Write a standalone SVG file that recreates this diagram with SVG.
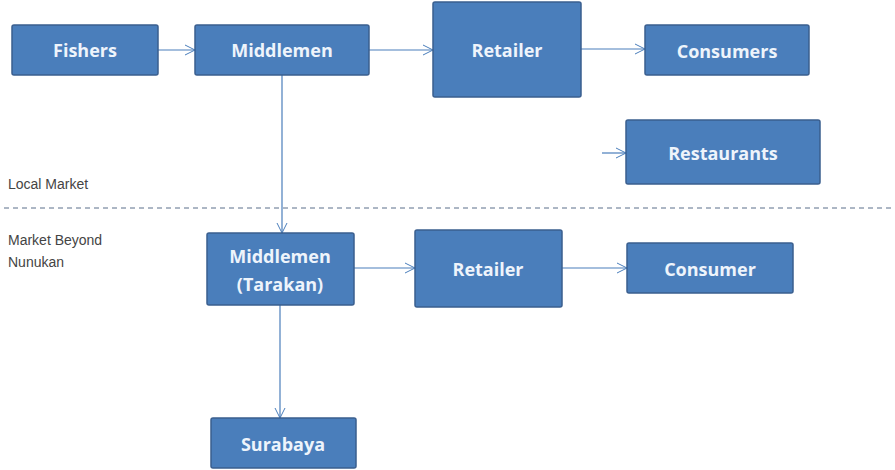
<svg xmlns="http://www.w3.org/2000/svg" width="895" height="470" viewBox="0 0 895 470">
<defs>
<marker id="arr" viewBox="0 0 12 12" refX="11" refY="6" markerWidth="12" markerHeight="12" markerUnits="userSpaceOnUse" orient="auto">
<path d="M1,1 L11,6 L1,11" fill="none" stroke="#4a7ebb" stroke-width="1"/>
</marker>
<style>
.box{fill:#4a7ebb;stroke:#3a5f8f;stroke-width:1.5}
.lbl{font-family:"Open Sans","Liberation Sans",sans-serif;font-weight:bold;font-size:18px;fill:#eef4fb;text-anchor:middle}
.conn{fill:none;stroke:#4a7ebb;stroke-width:1.2}
.note{font-family:"Liberation Sans",sans-serif;font-size:14px;fill:#444}
</style>
</defs>
<rect width="895" height="470" fill="#fff"/>
<g id="connectors">
<path class="conn" d="M158,50 H195" marker-end="url(#arr)"/>
<path class="conn" d="M369,50 H433" marker-end="url(#arr)"/>
<path class="conn" d="M581,49 H645" marker-end="url(#arr)"/>
<path class="conn" d="M602,153 H626" marker-end="url(#arr)"/>
<path class="conn" d="M282,75 V233" marker-end="url(#arr)"/>
<path class="conn" d="M354,268 H415" marker-end="url(#arr)"/>
<path class="conn" d="M562,268 H627" marker-end="url(#arr)"/>
<path class="conn" d="M280,305 V418" marker-end="url(#arr)"/>
</g>
<line x1="4" y1="208" x2="895" y2="208" stroke="#5a6f8a" stroke-width="1" stroke-dasharray="5,4"/>
<text class="note" x="8" y="189">Local Market</text>
<text class="note" x="8" y="245">Market Beyond</text>
<text class="note" x="8" y="267">Nunukan</text>
<g id="fishers"><rect class="box" x="12" y="25" width="146" height="50" rx="2"/><text class="lbl" x="85" y="57">Fishers</text></g>
<g id="middlemen"><rect class="box" x="195" y="25" width="174" height="50" rx="2"/><text class="lbl" x="282" y="57">Middlemen</text></g>
<g id="retailer"><rect class="box" x="433" y="2" width="148" height="95" rx="2"/><text class="lbl" x="507" y="57">Retailer</text></g>
<g id="consumers"><rect class="box" x="645" y="25" width="164" height="50" rx="2"/><text class="lbl" x="727" y="58">Consumers</text></g>
<g id="restaurants"><rect class="box" x="626" y="120" width="194" height="64" rx="2"/><text class="lbl" x="723" y="160">Restaurants</text></g>
<g id="middlemen-tarakan"><rect class="box" x="207" y="233" width="147" height="72" rx="2"/><text class="lbl" x="280" y="263">Middlemen</text><text class="lbl" x="280" y="291">(Tarakan)</text></g>
<g id="retailer2"><rect class="box" x="415" y="230" width="147" height="77" rx="2"/><text class="lbl" x="488" y="276">Retailer</text></g>
<g id="consumer"><rect class="box" x="627" y="243" width="166" height="50" rx="2"/><text class="lbl" x="710" y="276">Consumer</text></g>
<g id="surabaya"><rect class="box" x="211" y="418" width="145" height="50" rx="2"/><text class="lbl" x="283" y="451">Surabaya</text></g>
</svg>
